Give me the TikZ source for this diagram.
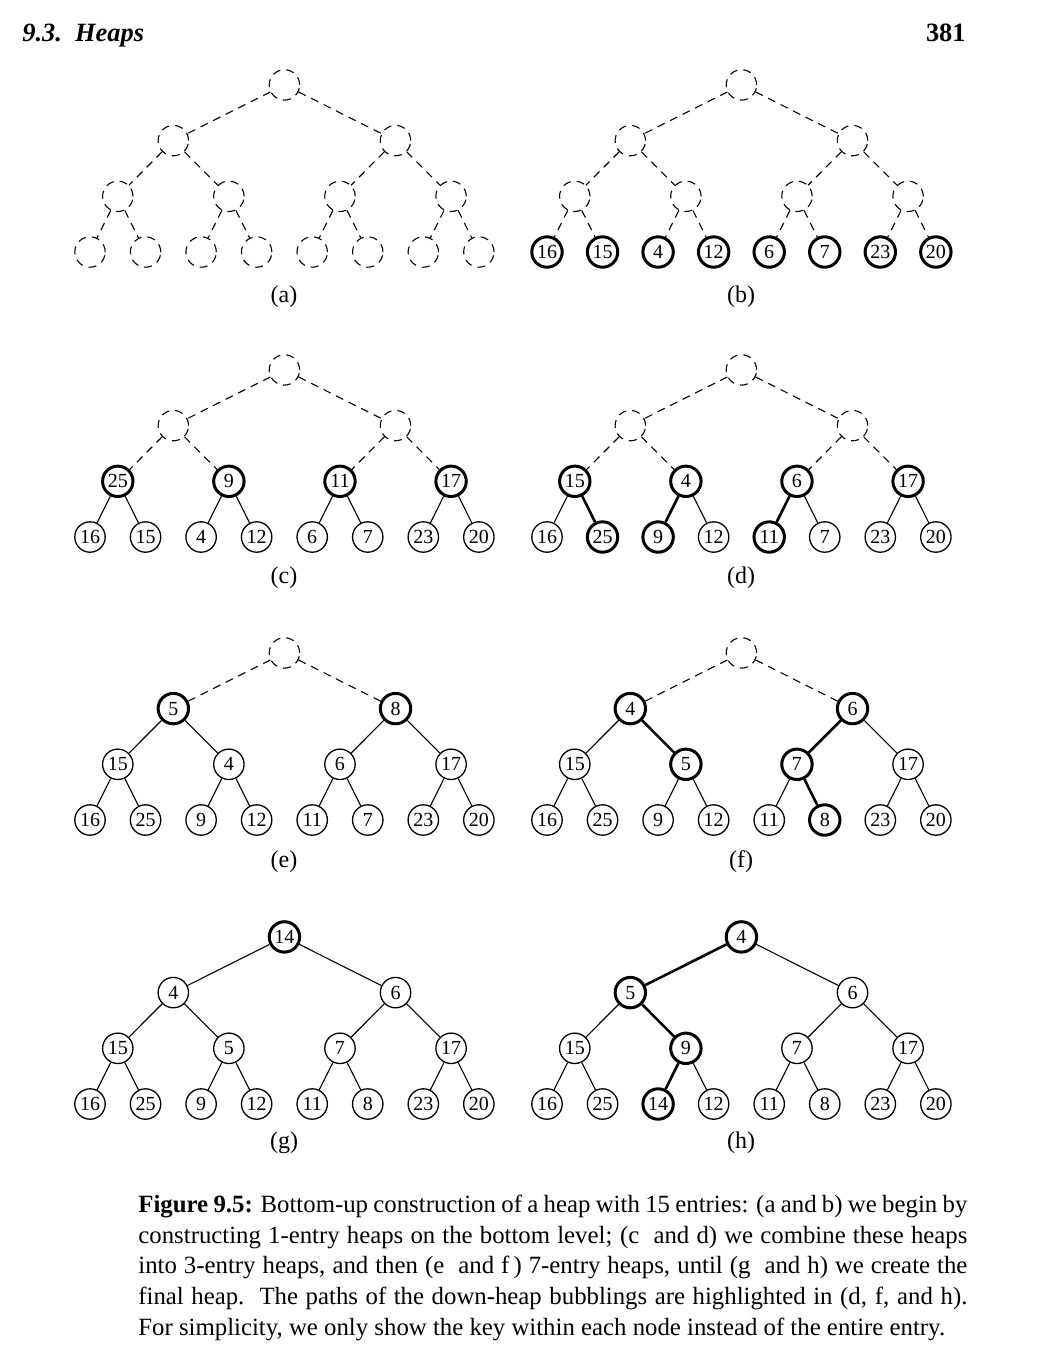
\documentclass[tikz,border=0pt]{standalone}
\usepackage{fontspec}
\setmainfont{Liberation Serif}
\begin{document}
\begin{tikzpicture}[x=0.5pt,y=-0.5pt,
  keynode/.style={circle,minimum size=15.2pt,inner sep=0pt,
    font=\fontsize{10}{12}\selectfont},
  nempty/.style={keynode,draw,line width=0.55pt,dash pattern=on 4pt off 3pt},
  nplain/.style={keynode,draw,line width=0.65pt},
  nbold/.style={keynode,draw,line width=1.5pt},
  edash/.style={draw,line width=0.55pt,dash pattern=on 4pt off 3pt},
  eline/.style={draw,line width=0.55pt},
  ebold/.style={draw,line width=1.3pt},
  sublabel/.style={inner sep=0pt,font=\fontsize{12}{14}\selectfont},
]
\useasboundingbox (0,0) rectangle (1040,1362);

% #1 prefix, #2 x of first leaf, #3 y of leaves,
% #4 nodes key/style in heap order, #5 edge styles for children 2..15
\newcommand\heaptree[5]{%
  \foreach \k/\s [count=\i] in {#4}{%
    \ifnum\i<2 \def\lvl{0}\else\ifnum\i<4 \def\lvl{1}\else
      \ifnum\i<8 \def\lvl{2}\else\def\lvl{3}\fi\fi\fi
    \pgfmathsetmacro\px{#2+55.55*((\i-2^\lvl+0.5)*2^(3-\lvl)-0.5)}
    \pgfmathsetmacro\py{#3-(3-\lvl)*55.7}
    \node[\s] (#1-\i) at (\px,\py) {\k};
  }
  \foreach \s [count=\c from 2] in {#5}{%
    \pgfmathtruncatemacro\pp{floor(\c/2)}
    \draw[\s] (#1-\pp) -- (#1-\c);
  }
}

% page header
\node[anchor=base west,inner sep=0pt,font=\fontsize{13.2}{15}\selectfont\bfseries\itshape]
  (head) at (22,41) {9.3.\ \ Heaps};
\node[anchor=base east,inner sep=0pt,font=\fontsize{13.2}{15}\selectfont\bfseries]
  (page) at (966,41) {381};

% (a)
\heaptree{a}{90}{252}
  {{}/nempty,{}/nempty,{}/nempty,{}/nempty,{}/nempty,{}/nempty,{}/nempty,
   {}/nempty,{}/nempty,{}/nempty,{}/nempty,{}/nempty,{}/nempty,{}/nempty,{}/nempty}
  {edash,edash,edash,edash,edash,edash,edash,edash,edash,edash,edash,edash,edash,edash}
\node[sublabel] (lab-a) at (284,297) {(a)};

% (b)
\heaptree{b}{547}{252}
  {{}/nempty,{}/nempty,{}/nempty,{}/nempty,{}/nempty,{}/nempty,{}/nempty,
   16/nbold,15/nbold,4/nbold,12/nbold,6/nbold,7/nbold,23/nbold,20/nbold}
  {edash,edash,edash,edash,edash,edash,edash,edash,edash,edash,edash,edash,edash,edash}
\node[sublabel] (lab-b) at (741,297) {(b)};

% (c)
\heaptree{c}{90}{537}
  {{}/nempty,{}/nempty,{}/nempty,25/nbold,9/nbold,11/nbold,17/nbold,
   16/nplain,15/nplain,4/nplain,12/nplain,6/nplain,7/nplain,23/nplain,20/nplain}
  {edash,edash,edash,edash,edash,edash,eline,eline,eline,eline,eline,eline,eline,eline}
\node[sublabel] (lab-c) at (284,578) {(c)};

% (d)
\heaptree{d}{547}{537}
  {{}/nempty,{}/nempty,{}/nempty,15/nbold,4/nbold,6/nbold,17/nbold,
   16/nplain,25/nbold,9/nbold,12/nplain,11/nbold,7/nplain,23/nplain,20/nplain}
  {edash,edash,edash,edash,edash,edash,eline,ebold,ebold,eline,ebold,eline,eline,eline}
\node[sublabel] (lab-d) at (741,578) {(d)};

% (e)
\heaptree{e}{90}{820}
  {{}/nempty,5/nbold,8/nbold,15/nplain,4/nplain,6/nplain,17/nplain,
   16/nplain,25/nplain,9/nplain,12/nplain,11/nplain,7/nplain,23/nplain,20/nplain}
  {edash,edash,eline,eline,eline,eline,eline,eline,eline,eline,eline,eline,eline,eline}
\node[sublabel] (lab-e) at (284,862) {(e)};

% (f)
\heaptree{f}{547}{820}
  {{}/nempty,4/nbold,6/nbold,15/nplain,5/nbold,7/nbold,17/nplain,
   16/nplain,25/nplain,9/nplain,12/nplain,11/nplain,8/nbold,23/nplain,20/nplain}
  {edash,edash,eline,ebold,ebold,eline,eline,eline,eline,eline,eline,ebold,eline,eline}
\node[sublabel] (lab-f) at (741,862) {(f)};

% (g)
\heaptree{g}{90}{1104}
  {14/nbold,4/nplain,6/nplain,15/nplain,5/nplain,7/nplain,17/nplain,
   16/nplain,25/nplain,9/nplain,12/nplain,11/nplain,8/nplain,23/nplain,20/nplain}
  {eline,eline,eline,eline,eline,eline,eline,eline,eline,eline,eline,eline,eline,eline}
\node[sublabel] (lab-g) at (284,1143) {(g)};

% (h)
\heaptree{h}{547}{1104}
  {4/nbold,5/nbold,6/nplain,15/nplain,9/nbold,7/nplain,17/nplain,
   16/nplain,25/nplain,14/nbold,12/nplain,11/nplain,8/nplain,23/nplain,20/nplain}
  {ebold,eline,eline,ebold,eline,eline,eline,eline,ebold,eline,eline,eline,eline,eline}
\node[sublabel] (lab-h) at (741,1143) {(h)};

% caption
\node[anchor=north west,inner sep=0pt,text width=414.5pt,align=justify,
  font=\fontsize{12.4}{15.4}\selectfont] (caption) at (138,1190.4)
  {\strut\textbf{Figure 9.5:} Bottom-up construction of a heap with 15 entries: (a and b) we begin by\linebreak
   constructing 1-entry heaps on the bottom level; (c~ and d) we combine these heaps\linebreak
   into 3-entry heaps, and then (e~ and f\,) 7-entry heaps, until (g~ and h) we create the\linebreak
   final heap.\ \ The paths of the down-heap bubblings are highlighted in (d, f, and h).\linebreak
   For simplicity, we only show the key within each node instead of the entire entry.};
\end{tikzpicture}
\end{document}
